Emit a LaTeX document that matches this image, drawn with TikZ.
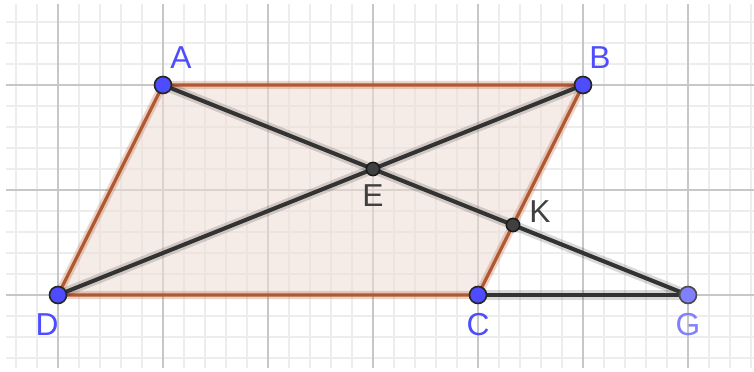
\documentclass[tikz,border=0pt]{standalone}
\usepackage{fontspec}
\setmainfont{Liberation Sans}
\definecolor{edgebrown}{RGB}{178,88,48}
\definecolor{fillbrown}{RGB}{240,222,212}
\definecolor{ptblue}{RGB}{77,77,255}
\definecolor{gblue}{RGB}{128,128,255}
\definecolor{darkpt}{RGB}{64,64,64}
\begin{document}
\begin{tikzpicture}[x=1cm,y=1cm,
  minorgrid/.style={draw=black!7,line width=0.35pt},
  majorgrid/.style={draw=black!22,line width=0.45pt},
  paredge/.style={draw=edgebrown,line width=0.9pt,line join=round},
  parhalo/.style={draw=edgebrown,draw opacity=0.25,line width=2.2pt,line join=round},
  seg/.style={draw=black!80,line width=1.1pt},
  seghalo/.style={draw=black,draw opacity=0.15,line width=2.6pt},
  freept/.style={circle,fill=ptblue,draw=black!85,line width=0.45pt,inner sep=0pt,minimum size=4.6pt},
  gpt/.style={circle,fill=gblue,draw=black!70,line width=0.45pt,inner sep=0pt,minimum size=4.6pt},
  deppt/.style={circle,fill=darkpt,draw=black!90,line width=0.4pt,inner sep=0pt,minimum size=3.6pt},
  lbl/.style={font=\fontsize{8.6}{9}\selectfont,text=ptblue,inner sep=0pt},
  glbl/.style={font=\fontsize{8.6}{9}\selectfont,text=gblue,inner sep=0pt},
  dlbl/.style={font=\fontsize{8.6}{9}\selectfont,text=darkpt,inner sep=0pt}]
\useasboundingbox (-0.5524,-0.7333) rectangle (6.6286,2.8095);
\fill[white] (-0.5524,-0.7333) rectangle (6.6286,2.8095);
% grid
\begin{scope}
\clip (-0.495,-0.69) rectangle (6.6286,2.762);
\foreach \i in {-3,...,33} { \draw[minorgrid] (\i*0.2,-1) -- (\i*0.2,3); }
\foreach \j in {-4,...,14} { \draw[minorgrid] (-1,\j*0.2) -- (7,\j*0.2); }
\foreach \i in {0,...,6} { \draw[majorgrid] (\i,-1) -- (\i,3); }
\foreach \j in {0,1,2} { \draw[majorgrid] (-1,\j) -- (7,\j); }
\end{scope}
% points
\coordinate (pD) at (0,0);
\coordinate (pC) at (4,0);
\coordinate (pG) at (6,0);
\coordinate (pA) at (1,2);
\coordinate (pB) at (5,2);
\coordinate (pE) at (3,1.2);
\coordinate (pK) at (4.3333,0.6667);
% parallelogram
\fill[fillbrown,fill opacity=0.55] (pA) -- (pB) -- (pC) -- (pD) -- cycle;
\draw[parhalo] (pA) -- (pB) -- (pC) -- (pD) -- cycle;
\draw[paredge] (pA) -- (pB) -- (pC) -- (pD) -- cycle;
% segments
\draw[seghalo] (pA) -- (pG);
\draw[seghalo] (pD) -- (pB);
\draw[seghalo] (pC) -- (pG);
\draw[seg] (pA) -- (pG);
\draw[seg] (pD) -- (pB);
\draw[seg] (pC) -- (pG);
% point markers
\node[freept] (A) at (pA) {};
\node[freept] (B) at (pB) {};
\node[freept] (C) at (pC) {};
\node[freept] (D) at (pD) {};
\node[gpt] (G) at (pG) {};
\node[deppt] (E) at (pE) {};
\node[deppt] (K) at (pK) {};
% labels
\node[lbl] (lA) at (1.171,2.257) {A};
\node[lbl] (lB) at (5.162,2.257) {B};
\node[lbl] (lD) at (-0.105,-0.286) {D};
\node[lbl] (lC) at (4,-0.286) {C};
\node[glbl] (lG) at (6,-0.286) {G};
\node[dlbl] (lE) at (3,0.943) {E};
\node[dlbl] (lK) at (4.59,0.79) {K};
\end{tikzpicture}
\end{document}
